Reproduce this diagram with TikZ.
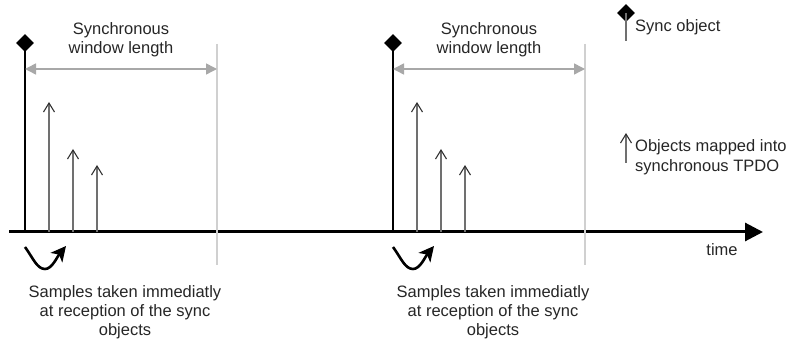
\documentclass[tikz,border=0pt]{standalone}
\usepackage{fontspec}
\setmainfont{Liberation Sans}
\usetikzlibrary{arrows.meta,shapes.geometric}
\definecolor{dimgray}{HTML}{A8A8A8}
\definecolor{wingray}{HTML}{D0D0D0}
\definecolor{objgray}{HTML}{707070}
\tikzset{
  lbl/.style={font=\fontsize{16.5}{19}\selectfont, inner sep=0pt, align=center, text=black!85},
  lbll/.style={font=\fontsize{16.5}{20}\selectfont, inner sep=0pt, align=left, anchor=west, text=black!85},
  syncdia/.style={diamond, fill=black, inner sep=0pt, minimum width=18pt, minimum height=18pt},
  syncline/.style={line width=2.2pt, black},
  objarrow/.style={line width=1.6pt, objgray, -{Straight Barb[length=9pt, width=11pt, line width=1.1pt, black!80]}},
  dimarrow/.style={line width=1.5pt, dimgray, {Triangle[length=11pt,width=11pt]}-{Triangle[length=11pt,width=11pt]}},
  winline/.style={line width=1.2pt, wingray},
  axis/.style={line width=3pt, black, -{Triangle[length=18pt,width=18pt]}},
  curvarrow/.style={line width=2.6pt, black, -{Stealth[length=15pt,width=15pt,inset=4pt]}}
}
\begin{document}
\begin{tikzpicture}[x=1pt,y=-1pt]
\useasboundingbox (0,0) rectangle (790,344);
% axis
\coordinate (ax0) at (9,232);
\coordinate (ax1) at (763,232);
\draw[axis] (ax0) -- (ax1);
\node[lbl] (time) at (722,250) {time};
\foreach \o/\n in {0/a,368/b}{
  \begin{scope}[xshift=\o]
  \coordinate (\n wt) at (217,44);
  \coordinate (\n wb) at (217,265);
  \draw[winline] (\n wt) -- (\n wb);
  \node[syncdia] (\n dia) at (25,43) {};
  \coordinate (\n base) at (25,232);
  \draw[syncline] (\n dia.center) -- (\n base);
  \coordinate (\n dl) at (25,69);
  \coordinate (\n dr) at (217,69);
  \draw[dimarrow] (\n dl) -- (\n dr);
  \node[lbl] (\n win) at (121,40) {Synchronous\\window length};
  \coordinate (\n o1b) at (49,232); \coordinate (\n o1t) at (49,102);
  \coordinate (\n o2b) at (73,232); \coordinate (\n o2t) at (73,149);
  \coordinate (\n o3b) at (97,232); \coordinate (\n o3t) at (97,165);
  \draw[objarrow] (\n o1b) -- (\n o1t);
  \draw[objarrow] (\n o2b) -- (\n o2t);
  \draw[objarrow] (\n o3b) -- (\n o3t);
  \coordinate (\n cs) at (25,247);
  \coordinate (\n cm) at (45,269);
  \coordinate (\n ce) at (66,246);
  \draw[curvarrow] (\n cs) .. controls (33,258) and (37,269) .. (\n cm)
     .. controls (52,269) and (57,257) .. (\n ce);
  \node[lbl] (\n samp) at (125,312) {Samples taken immediatly\\at reception of the sync\\objects};
  \end{scope}
}
% legend
\node[syncdia] (ldia) at (626,13) {};
\coordinate (lsb) at (626,41);
\draw[line width=1.6pt, objgray] (ldia.center) -- (lsb);
\node[lbll] (lsync) at (635,27) {Sync object};
\coordinate (lob) at (626,163);
\coordinate (lot) at (626,133);
\draw[objarrow] (lob) -- (lot);
\node[lbll] (lobj) at (635,157) {Objects mapped into\\synchronous TPDO};
\end{tikzpicture}
\end{document}
